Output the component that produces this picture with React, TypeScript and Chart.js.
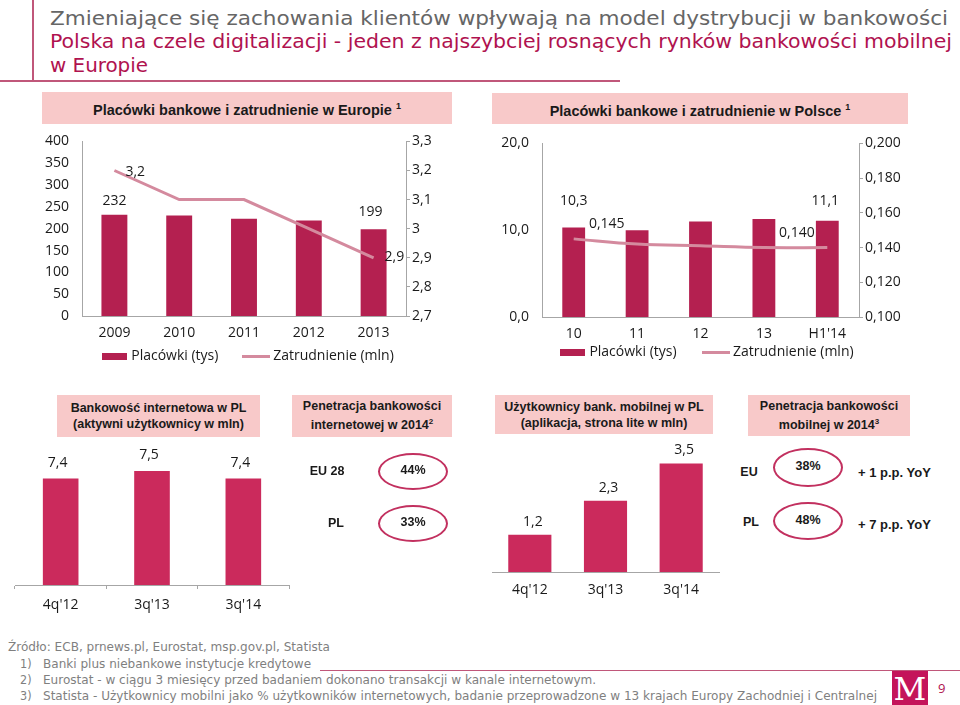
import React, { useEffect, useRef } from 'react';
import { Chart, registerables } from 'chart.js';

Chart.register(...registerables);

// ---------------- DATA ----------------
const euYears = ['2009', '2010', '2011', '2012', '2013'];
const euBranches = [232, 230, 223, 219, 199];
const euEmployment = [3.2, 3.1, 3.1, 3.0, 2.9];

const plYears = ['10', '11', '12', '13', "H1'14"];
const plBranches = [10.3, 10.0, 11.0, 11.3, 11.1];
const plEmployment = [0.145, 0.142, 0.141, 0.14, 0.14];

const quarters = ["4q'12", "3q'13", "3q'14"];
const internetUsers = [7.4, 7.5, 7.4];
const mobileUsers = [1.2, 2.3, 3.5];

const internetPenLabels = ['EU 28', 'PL'];
const internetPenValues = [44, 33];
const mobilePenLabels = ['EU', 'PL'];
const mobilePenValues = [38, 48];
const mobilePenChange = [1, 7];

const seriesNames = ['Placówki (tys)', 'Zatrudnienie (mln)'];

const titleLines = [
  'Zmieniające się zachowania klientów wpływają na model dystrybucji w bankowości',
  'Polska na czele digitalizacji - jeden z najszybciej rosnących rynków bankowości mobilnej',
  'w Europie',
];
const sourceLine = 'Źródło: ECB, prnews.pl, Eurostat, msp.gov.pl, Statista';
const footnotes = [
  'Banki plus niebankowe instytucje kredytowe',
  'Eurostat - w ciągu 3 miesięcy przed badaniem dokonano transakcji w kanale internetowym.',
  'Statista - Użytkownicy mobilni jako % użytkowników internetowych, badanie przeprowadzone w 13 krajach Europy Zachodniej i Centralnej',
];

// ---------------- STYLE ----------------
const BOX_BG = '#f8c9c9';
const BAR_DARK = '#b42050';
const BAR_BRIGHT = '#cb2a5c';
const LINE = '#d48a9e';
const AXIS = '#a6a6a6';
const OVAL = '#c2305f';
const RED = '#b0124f';
const GRAY = '#666666';
const TXT = '#1a1a1a';
const CHART_FONT = "'Open Sans', sans-serif";
const BOLD_FONT = "'Liberation Sans', Arial, sans-serif";

Chart.defaults.font.family = CHART_FONT;
Chart.defaults.font.size = 14;
Chart.defaults.color = TXT;

const fmt = (v: number, d: number) => v.toFixed(d).replace('.', ',');
const fmtShort = (v: number) => String(Math.round(v * 10) / 10).replace('.', ',');

let mctx: CanvasRenderingContext2D | null = null;
function measure(text: string, font: string) {
  if (!mctx) mctx = document.createElement('canvas').getContext('2d');
  mctx!.font = font;
  return mctx!.measureText(text).width;
}

function swatch(w: number, h: number, color: string) {
  const c = document.createElement('canvas');
  c.width = w;
  c.height = h;
  const g = c.getContext('2d')!;
  g.fillStyle = color;
  g.fillRect(0, 0, w, h);
  return c;
}

type LabelSpec = { ds: number; idx: number; dx: number; dy: number; dec: number; align?: CanvasTextAlign };

function valueLabels(specs: LabelSpec[]) {
  return {
    id: 'valueLabels',
    afterDatasetsDraw(chart: any) {
      const ctx = chart.ctx;
      ctx.save();
      ctx.font = `14px ${CHART_FONT}`;
      ctx.fillStyle = TXT;
      ctx.textBaseline = 'middle';
      specs.forEach((s) => {
        const el = chart.getDatasetMeta(s.ds).data[s.idx];
        const v = chart.data.datasets[s.ds].data[s.idx] as number;
        ctx.textAlign = s.align || 'center';
        ctx.fillText(fmt(v, s.dec), el.x + s.dx, el.y + s.dy);
      });
      ctx.restore();
    },
  };
}

function legendOpts(pad: number, gapSpaces: number) {
  return {
    position: 'bottom',
    labels: {
      usePointStyle: true,
      pointStyleWidth: 20,
      padding: pad,
      color: TXT,
      font: { size: 14, family: CHART_FONT },
      generateLabels: (chart: any) => {
        const items = (Chart.defaults.plugins.legend.labels as any).generateLabels(chart);
        items.forEach((it: any) => {
          it.pointStyle = it.datasetIndex === 0 ? swatch(25, 7, BAR_DARK) : swatch(28, 3, LINE);
          if (it.datasetIndex === 0) it.text = it.text + '\u00a0'.repeat(gapSpaces);
        });
        return items.sort((a: any, b: any) => a.datasetIndex - b.datasetIndex);
      },
    },
  };
}

function comboConfig(
  labels: string[], bars: number[], line: number[],
  yMax: number, yStep: number, yDec: number,
  y1Min: number, y1Max: number, y1Step: number, y1Fmt: (v: number) => string,
  barPct: number, tension: number, rightW: number, xH: number, xPad: number,
  legPad: number, legSpaces: number, specs: LabelSpec[]
): any {
  return {
    type: 'bar',
    data: {
      labels,
      datasets: [
        { type: 'bar', label: seriesNames[0], data: bars, backgroundColor: BAR_DARK, yAxisID: 'y', order: 1, barPercentage: barPct, categoryPercentage: 1 },
        { type: 'line', label: seriesNames[1], data: line, borderColor: LINE, backgroundColor: LINE, borderWidth: 3, pointRadius: 0, yAxisID: 'y1', order: 0, tension, fill: false },
      ],
    },
    options: {
      responsive: false,
      animation: false,
      devicePixelRatio: 1,
      events: [],
      layout: { padding: { top: 20, left: 0, right: 0, bottom: 0 } },
      plugins: { legend: legendOpts(legPad, legSpaces), tooltip: { enabled: false } },
      scales: {
        x: {
          grid: { display: false, drawTicks: false },
          border: { display: true, color: AXIS },
          ticks: { padding: xPad, color: TXT },
          afterFit: (s: any) => { s.height = xH; },
        },
        y: {
          position: 'left', min: 0, max: yMax,
          ticks: { stepSize: yStep, padding: 13, color: TXT, callback: (v: any) => fmt(Number(v), yDec) },
          grid: { display: false, drawTicks: false },
          border: { display: true, color: AXIS },
          afterFit: (s: any) => { s.width = 52; },
        },
        y1: {
          position: 'right', min: y1Min, max: y1Max,
          ticks: { stepSize: y1Step, padding: 2, color: TXT, callback: (v: any) => y1Fmt(Number(v)) },
          grid: { display: true, drawOnChartArea: false, drawTicks: true, tickLength: 4, color: AXIS },
          border: { display: true, color: AXIS },
          afterFit: (s: any) => { s.width = rightW; },
        },
      },
    },
    plugins: [valueLabels(specs)],
  };
}

function simpleBarConfig(data: number[], color: string, yMin: number, yMax: number, barPct: number, withTicks: boolean, xH: number, pad: number, padTop: number, specs: LabelSpec[]): any {
  return {
    type: 'bar',
    data: { labels: quarters, datasets: [{ data, backgroundColor: color, barPercentage: barPct, categoryPercentage: 1 }] },
    options: {
      responsive: false,
      animation: false,
      devicePixelRatio: 1,
      events: [],
      layout: { padding: { top: padTop, left: 10, right: 10, bottom: 0 } },
      plugins: { legend: { display: false }, tooltip: { enabled: false } },
      scales: {
        x: {
          grid: withTicks
            ? { display: true, drawOnChartArea: false, drawTicks: true, tickLength: 4, offset: true, color: AXIS }
            : { display: false, drawTicks: false },
          border: { display: true, color: AXIS },
          ticks: { padding: pad, color: TXT },
          afterFit: (s: any) => { s.height = xH; },
        },
        y: { display: false, min: yMin, max: yMax },
      },
    },
    plugins: [valueLabels(specs)],
  };
}

function ChartCanvas({ left, top, width, height, make }: { left: number; top: number; width: number; height: number; make: () => any }) {
  const ref = useRef<HTMLCanvasElement>(null);
  useEffect(() => {
    const chart = new Chart(ref.current!, make());
    return () => chart.destroy();
  }, []);
  return <canvas ref={ref} width={width} height={height} style={{ position: 'absolute', left, top, width, height }} />;
}

function Box({ left, top, width, height, size, children }: any) {
  return (
    <div style={{
      position: 'absolute', left, top, width, height, background: BOX_BG,
      display: 'flex', alignItems: 'center', justifyContent: 'center', textAlign: 'center',
      fontFamily: BOLD_FONT, fontWeight: 'bold', fontSize: size, lineHeight: '16px', color: TXT,
    }}>
      <div>{children}</div>
    </div>
  );
}

function Oval({ left, top, width, height, text }: any) {
  return (
    <div style={{
      position: 'absolute', left, top, width, height, boxSizing: 'border-box',
      border: `2.5px solid ${OVAL}`, borderRadius: '50%',
      display: 'flex', alignItems: 'center', justifyContent: 'center',
      fontFamily: BOLD_FONT, fontWeight: 'bold', fontSize: 12.5, color: TXT, paddingBottom: 3,
    }}>{text}</div>
  );
}

function Abs({ left, top, width, align, size, bold, color, font, children }: any) {
  return (
    <div style={{
      position: 'absolute', left, top, width, textAlign: align || 'left', whiteSpace: 'nowrap',
      fontFamily: font || BOLD_FONT, fontWeight: bold ? 'bold' : 'normal', fontSize: size,
      lineHeight: `${size}px`, color: color || TXT,
    }}>{children}</div>
  );
}

export default function App() {
  const titleFontCss = `20px 'DejaVu Sans Condensed'`;
  const titleTargets = [898, 902, 98];
  const titleScales = titleLines.map((t, i) => titleTargets[i] / measure(t, titleFontCss));
  const footFontCss = `12.5px 'DejaVu Sans Condensed'`;
  const footScale = 834 / measure(footnotes[2], footFontCss);

  const titleTops = [7.5, 31, 54.5];
  const footTops = [640, 657, 673, 689];

  return (
    <div style={{ position: 'fixed', left: 0, top: 0, width: 960, height: 705, background: '#fff', overflow: 'hidden' }}>
      {/* decorative frame lines */}
      <div style={{ position: 'absolute', left: 32, top: 0, width: 1.5, height: 82, background: '#c0577a' }} />
      <div style={{ position: 'absolute', left: 0, top: 80, width: 620, height: 2, background: '#c0577a' }} />

      {titleLines.map((t, i) => (
        <div key={i} style={{
          position: 'absolute', left: 50, top: titleTops[i], whiteSpace: 'nowrap',
          font: titleFontCss, lineHeight: '20px', color: i === 0 ? GRAY : RED,
          transform: `scaleX(${titleScales[i]})`, transformOrigin: 'left top',
        }}>{t}</div>
      ))}

      <Box left={42} top={92} width={410} height={32} size={14.5}>Placówki bankowe i zatrudnienie w Europie <sup style={{ fontSize: 9 }}>1</sup></Box>
      <Box left={492} top={93} width={416} height={31} size={14.5}>Placówki bankowe i zatrudnienie w Polsce <sup style={{ fontSize: 9 }}>1</sup></Box>

      <Box left={57} top={395} width={203} height={42} size={12.5}>Bankowość internetowa w PL<br />(aktywni użytkownicy w mln)</Box>
      <Box left={292} top={395} width={160} height={42} size={12.5}>Penetracja bankowości<br />internetowej w 2014<sup style={{ fontSize: 8 }}>2</sup></Box>
      <Box left={495} top={395} width={218} height={39} size={12.5}>Użytkownicy bank. mobilnej w PL<br />(aplikacja, strona lite w mln)</Box>
      <Box left={748} top={395} width={162} height={41} size={12.5}>Penetracja bankowości<br />mobilnej w 2014<sup style={{ fontSize: 8 }}>3</sup></Box>

      <ChartCanvas left={30} top={120} width={438} height={253} make={() => comboConfig(
        euYears, euBranches, euEmployment, 400, 50, 0, 2.7, 3.3, 0.1, fmtShort, 0.4, 0, 62, 27, 9, 6, 6,
        [
          { ds: 0, idx: 0, dx: 0, dy: -14, dec: 0 },
          { ds: 0, idx: 4, dx: -3, dy: -17, dec: 0 },
          { ds: 1, idx: 0, dx: 11, dy: 2, dec: 1, align: 'left' },
          { ds: 1, idx: 4, dx: 11, dy: -1, dec: 1, align: 'left' },
        ])} />

      <ChartCanvas left={490} top={122} width={436} height={247} make={() => comboConfig(
        plYears, plBranches, plEmployment, 20, 10, 1, 0.1, 0.2, 0.02, (v) => fmt(v, 3), 0.36, 0.4, 67, 24, 9, 4, 7,
        [
          { ds: 0, idx: 0, dx: 0, dy: -27, dec: 1 },
          { ds: 0, idx: 4, dx: -2, dy: -20, dec: 1 },
          { ds: 1, idx: 0, dx: 33, dy: -15, dec: 3 },
          { ds: 1, idx: 3, dx: 33, dy: -15, dec: 3 },
        ])} />

      <ChartCanvas left={5} top={433} width={294} height={187} make={() => simpleBarConfig(
        internetUsers, BAR_BRIGHT, 6, 8, 0.39, true, 35, 8, 0,
        internetUsers.map((_, i) => ({ ds: 0, idx: i, dx: -3, dy: -16, dec: 1 })))} />

      <ChartCanvas left={482} top={428} width={247} height={174} make={() => simpleBarConfig(
        mobileUsers, BAR_BRIGHT, 0, 4, 0.57, false, 30, 10, 20,
        mobileUsers.map((_, i) => ({ ds: 0, idx: i, dx: 3, dy: -13, dec: 1 })))} />

      {/* internet penetration */}
      <Abs left={297} top={465} width={60} align="center" size={12.5} bold>{internetPenLabels[0]}</Abs>
      <Abs left={306} top={517} width={60} align="center" size={12.5} bold>{internetPenLabels[1]}</Abs>
      <Oval left={378} top={453} width={70} height={37} text={`${internetPenValues[0]}%`} />
      <Oval left={378} top={505} width={70} height={37} text={`${internetPenValues[1]}%`} />

      {/* mobile penetration */}
      <Abs left={729} top={466} width={40} align="center" size={12.5} bold>{mobilePenLabels[0]}</Abs>
      <Abs left={731} top={516} width={40} align="center" size={12.5} bold>{mobilePenLabels[1]}</Abs>
      <Oval left={773} top={448} width={70} height={39} text={`${mobilePenValues[0]}%`} />
      <Oval left={773} top={502} width={70} height={38} text={`${mobilePenValues[1]}%`} />
      <Abs left={858} top={466} size={13} bold>{`+ ${mobilePenChange[0]} p.p. YoY`}</Abs>
      <Abs left={858} top={518} size={13} bold>{`+ ${mobilePenChange[1]} p.p. YoY`}</Abs>

      {/* footnotes */}
      <div style={{
        position: 'absolute', left: 8, top: footTops[0], whiteSpace: 'nowrap', font: footFontCss, lineHeight: '14px',
        color: '#7f7f7f', transform: `scaleX(${footScale})`, transformOrigin: 'left top',
      }}>{sourceLine}</div>
      {footnotes.map((f, i) => (
        <React.Fragment key={i}>
          <div style={{ position: 'absolute', left: 20, top: footTops[i + 1], whiteSpace: 'nowrap', font: footFontCss, lineHeight: '14px', color: '#7f7f7f' }}>{`${i + 1})`}</div>
          <div style={{
            position: 'absolute', left: 43, top: footTops[i + 1], whiteSpace: 'nowrap', font: footFontCss, lineHeight: '14px',
            color: '#7f7f7f', transform: `scaleX(${footScale})`, transformOrigin: 'left top',
          }}>{f}</div>
        </React.Fragment>
      ))}
      <div style={{ position: 'absolute', left: 320, top: 670, width: 640, height: 1, background: '#c0577a' }} />

      {/* logo */}
      <div style={{
        position: 'absolute', left: 892, top: 671, width: 36, height: 34, background: '#c4145a',
        color: '#fff', fontFamily: "'DejaVu Serif', serif", fontSize: 32, lineHeight: '36px', textAlign: 'center',
      }}>M</div>
      <div style={{ position: 'absolute', left: 938, top: 681, fontFamily: CHART_FONT, fontSize: 13, lineHeight: '14px', color: RED }}>9</div>
    </div>
  );
}
